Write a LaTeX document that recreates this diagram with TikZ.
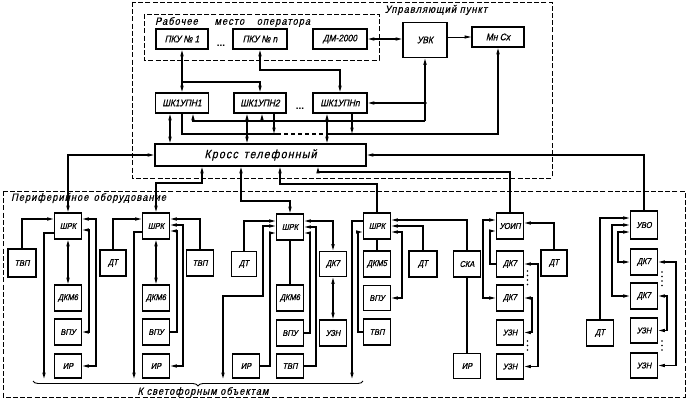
\documentclass[tikz,border=0pt]{standalone}
\usepackage{fontspec}
\setmainfont{Liberation Sans}
\newfontfamily\gost{Liberation Sans}[FakeSlant=0.22,FakeStretch=0.88,FakeBold=0.8]
\newfontfamily\gostw{Liberation Sans}[FakeSlant=0.22,FakeStretch=0.88,FakeBold=0.6,LetterSpace=10]
\usetikzlibrary{arrows.meta,calc,decorations.pathreplacing}
\begin{document}
\begin{tikzpicture}[x=1pt,y=-1pt,
  >={Triangle[length=6.5pt,width=3pt]},
  conn/.style={line width=1.3pt},
  dsh/.style={line width=0.6pt,dash pattern=on 5pt off 2.2pt},
  blk/.style={draw,line width=1.6pt,inner sep=0pt,align=center,font=\gost\fontsize{9.5}{10}\selectfont},
  tb/.style={blk,minimum height=20pt},
  pb/.style={blk,minimum width=27pt,minimum height=26pt,font=\gost\fontsize{8.5}{9}\selectfont},
  lbl/.style={inner sep=0pt,font=\gostw\fontsize{10.5}{11}\selectfont}
]
\useasboundingbox (0,0) rectangle (687,401);
% dashed frames
\draw[dsh] (132,2) rectangle (552,178);
\draw[dsh] (144,14) rectangle (379,60);
\draw[dsh] (3,191) rectangle (685,397);
\node[lbl,anchor=west] (lrab) at (155,22) {Рабочее\hspace{1.6em}место\hspace{1.2em}оператора};
\node[lbl] (lupr) at (436,10) {Управляющий пункт};
\node[lbl,anchor=west] (lper) at (11,198) {Периферийное\hspace{0.5em}оборудование};
\node[lbl] (lsvet) at (203,392) {К светофорным объектам};

% top blocks
\node[tb,minimum width=52pt] (pku1) at (182,39) {ПКУ № 1};
\node[tb,minimum width=54pt] (pkun) at (260,39) {ПКУ № n};
\node[tb,minimum width=54pt] (dm) at (340,39) {ДМ-2000};
\node[blk,minimum width=44pt,minimum height=35pt] (uvk) at (425,40) {УВК};
\node[tb,minimum width=52pt] (mnsx) at (498,37) {Мн Сх};
\node[tb,minimum width=53pt] (shk1) at (182,103) {ШК1УПН1};
\node[tb,minimum width=52pt] (shk2) at (260,103) {ШК1УПН2};
\node[tb,minimum width=54pt] (shkn) at (340,103) {ШК1УПНn};
\node[blk,minimum width=211pt,minimum height=22pt,font=\gostw\fontsize{12}{12}\selectfont] (kross) at (260.5,155) {Кросс\hspace{0.5em}телефонный};
\node[lbl,font=\bfseries] (dots1) at (221,46) {...};
\node[lbl,font=\bfseries] (dots2) at (300,109) {...};

% top connectors
\draw[conn,<->] (pku1.south) -- (shk1.north);
\coordinate (pb) at (pku1.south |- 0,82);
\draw[conn,->] (pb) -| (shk2.north);
\draw[conn,<->] (pkun.south) -- (pkun.south |- 0,70) -| (shkn.north);
\draw[conn,<->] (dm.east) -- (uvk.west |- dm.east);
\draw[line width=0.9pt,->] (uvk.east |- mnsx.west) -- (mnsx.west);
\coordinate (j) at (uvk.south |- shkn.east);
\draw[conn,->] (j) -- (shkn.east);
\fill (j) circle (1.9pt);
\coordinate (ba) at (uvk.south |- 0,121);
\draw[conn,->] (ba) -- (uvk.south);
\coordinate (s1a) at ([xshift=11pt]shk1.south);
\draw[conn,->] (ba) -| (s1a);
\coordinate (s2a) at ([xshift=2pt]shk2.south);
\draw[conn,->] (s2a |- ba) -- (s2a);
\coordinate (s1b) at (shk1.south);
\coordinate (bbl) at (s1b |- 0,134);
\coordinate (bbr) at (mnsx.south |- 0,134);
\coordinate (bd1) at (277,134);
\coordinate (bd2) at (327,134);
\draw[conn] (s1b) -- (bbl) -- (bd1);
\draw[line width=1.1pt,dash pattern=on 4pt off 3pt] (bd1) -- (bd2);
\draw[conn,->] (bd2) -- (bbr) -- (mnsx.south);
\coordinate (s2b) at ([xshift=14pt]shk2.south);
\draw[conn,->] (s2b) -- (s2b |- bbl);
\coordinate (snb) at ([xshift=12pt]shkn.south);
\draw[conn,->] (snb) -- (snb |- bbl);
\coordinate (s1k) at ([xshift=-12pt]shk1.south);
\draw[conn,<->] (s1k) -- (s1k |- kross.north);
\coordinate (s2k) at ([xshift=-13pt]shk2.south);
\draw[conn,<->] (s2k) -- (s2k |- kross.north);
\coordinate (snk) at ([xshift=-13pt]shkn.south);
\draw[conn,<->] (snk) -- (snk |- kross.north);

% periphery blocks
\node[pb] (shrk1) at (68,226) {ШРК};
\node[pb,minimum width=28pt,minimum height=28pt] (tvp1) at (22,263) {ТВП};
\node[pb] (dkm1) at (68,298) {ДКМ6};
\node[pb] (vpu1) at (68,332) {ВПУ};
\node[pb,minimum height=24pt] (ir1) at (68,366) {ИР};

\node[pb] (shrk2) at (156,226) {ШРК};
\node[pb,minimum width=26pt] (dt2) at (113,263) {ДТ};
\node[pb] (tvp2) at (200,263) {ТВП};
\node[pb] (dkm2) at (156,298) {ДКМ6};
\node[pb] (vpu2) at (156,332) {ВПУ};
\node[pb,minimum height=24pt] (ir2) at (156,366) {ИР};

\node[pb] (shrk3) at (290,227) {ШРК};
\node[pb,minimum width=25pt,minimum height=25pt] (dt3) at (244,264) {ДТ};
\node[pb,minimum height=25pt] (dk73) at (333,264) {ДК7};
\node[pb] (dkm3) at (290,298) {ДКМ6};
\node[pb] (vpu3) at (290,333) {ВПУ};
\node[pb,minimum height=24pt] (tvp3) at (290,366) {ТВП};
\node[pb] (uzn3) at (333,333) {УЗН};
\node[pb,minimum height=24pt] (ir3) at (246,366) {ИР};

\node[pb] (shrk4) at (377,226) {ШРК};
\node[pb] (dkm5) at (377,264) {ДКМ5};
\node[pb,minimum height=25pt] (vpu4) at (377,298) {ВПУ};
\node[pb] (tvp4) at (377,332) {ТВП};
\node[pb,minimum width=28pt] (dt4) at (423,264) {ДТ};
\node[pb] (ska) at (467,264) {СКА};
\node[pb,minimum height=25pt] (ir4) at (467,366) {ИР};

\node[pb] (uoip) at (510,226) {УОИП};
\node[pb] (dk7a) at (510,264) {ДК7};
\node[pb] (dk7b) at (510,298) {ДК7};
\node[pb,minimum height=25pt] (uzna) at (510,332.5) {УЗН};
\node[pb,minimum height=25pt] (uznb) at (510,366.5) {УЗН};
\node[pb,minimum width=26pt] (dt5) at (554,263) {ДТ};

\node[pb,minimum height=28pt] (uvo) at (644,225) {УВО};
\node[pb] (dk7c) at (644,262) {ДК7};
\node[pb] (dk7d) at (644,296) {ДК7};
\node[pb,minimum height=25pt] (uznc) at (644,330.5) {УЗН};
\node[pb,minimum height=25pt] (uznd) at (644,365.5) {УЗН};
\node[pb] (dt6) at (600,333) {ДТ};

% kross connectors
\draw[conn,<->] (kross.west) -| (shrk1.north);
\coordinate (kb1) at ([xshift=-58.5pt]kross.south);
\draw[conn,<->] (kb1) -- (kb1 |- 0,183) -| (shrk2.north);
\coordinate (kb2) at ([xshift=-19.5pt]kross.south);
\draw[conn,<->] (kb2) -- (kb2 |- 0,201) -| (shrk3.north);
\coordinate (kb3) at ([xshift=19.5pt]kross.south);
\draw[conn,<-] (kb3) -- (kb3 |- 0,184) -| (shrk4.north);
\coordinate (kb4) at ([xshift=57.5pt]kross.south);
\draw[conn,<-] (kb4) -- (kb4 |- 0,172) -| (uoip.north);
\draw[conn,<-] (kross.east) -| (uvo.north);

% column 1
\draw[conn,->] (tvp1.north) |- (shrk1.west |- 0,219);
\coordinate (e1) at (44,379);
\draw[conn,->] (shrk1.west |- 0,233) -| (e1);
\draw[conn,<->] (shrk1.south) -- (dkm1.north);
\draw[conn,<->] (shrk1.east |- 0,219) -- (96,219) |- (ir1.east);
\draw[conn,<->] (shrk1.east |- 0,230) -- (89,230) |- (vpu1.east);
% column 2
\draw[conn,->] (dt2.north) |- (shrk2.west |- 0,219);
\coordinate (e2) at (134,379);
\draw[conn,->] (shrk2.west |- 0,232) -| (e2);
\draw[conn,<->] (shrk2.south) -- (dkm2.north);
\draw[conn,->] (tvp2.north) |- (shrk2.east |- 0,219);
\draw[conn,<->] (shrk2.east |- 0,225) -- (183,225) |- (ir2.east);
\draw[conn,<-] (shrk2.east |- 0,231) -- (177,231) |- (vpu2.east);
% column 3
\draw[conn,->] (dt3.north) |- (shrk3.west |- 0,221);
\coordinate (e3) at (223,379);
\draw[conn,<->] (shrk3.west |- 0,226) -- (263,226) -- (263,296) -- (223,296) -- (e3);
\draw[conn,->] (ir3.east) -- (270,366) -- (270,233) -- (shrk3.west |- 0,233);
\draw[conn] (shrk3.south) -- (dkm3.north);
\draw[conn,<->] (shrk3.east |- 0,221) -| (dk73.north);
\draw[conn,<-] (shrk3.east |- 0,227) -- (316,227) |- (tvp3.east);
\draw[conn,<-] (shrk3.east |- 0,233) -- (310,233) |- (vpu3.east);
\draw[conn,<->] (dk73.south) -- (uzn3.north);
% column 4
\coordinate (e4) at (352,379);
\draw[conn,->] (shrk4.west |- 0,221) -- (352,221) -- (e4);
\draw[conn,->] (tvp4.west) -- (358,332) -- (358,232) -- (shrk4.west |- 0,232);
\draw[conn] (shrk4.south) -- (dkm5.north);
\draw[conn,<->] (shrk4.east |- 0,232) -- (402,232) |- (vpu4.east);
\draw[conn,->] (dt4.north) |- (shrk4.east |- 0,226);
\draw[conn,->] (ska.north) |- (shrk4.east |- 0,220);
\draw[conn] (ska.south) -- (ir4.north);
% column 5
\draw[conn,->] (dt5.north) |- (uoip.east |- 0,223);
\draw[conn,<->] (uoip.west |- 0,220) -- (483,220) |- (dk7b.west);
\draw[conn,->] (dk7a.west) -- (490,264) -- (490,231) -- (uoip.west |- 0,231);
\draw[conn,<->] (dk7a.east) -- (538,264) |- (uznb.east);
\draw[conn,<->] (dk7b.east) -- (532,298) |- (uzna.east);
\foreach \yy in {271,275.5,280,284.5,341,345.5,350} \fill (527.5,\yy) circle (0.9pt);
% column 6
\draw[conn,->] (dt6.north) |- (uvo.west |- 0,218);
\draw[conn,<->] (uvo.west |- 0,225) -- (612,225) |- (dk7d.west);
\draw[conn,<->] (uvo.west |- 0,232) -- (618,232) |- (dk7c.west);
\draw[conn,<->] (dk7c.east) -- (676,262) |- (uznd.east);
\draw[conn,<->] (dk7d.east) -- (667,296) |- (uznc.east);
\foreach \yy in {272,276.5,281,285.5,341,345.5,350} \fill (662,\yy) circle (0.9pt);

% brace
\draw[decorate,decoration={brace,amplitude=5pt},line width=0.9pt] (363,381) -- (33,381);
\end{tikzpicture}
\end{document}
